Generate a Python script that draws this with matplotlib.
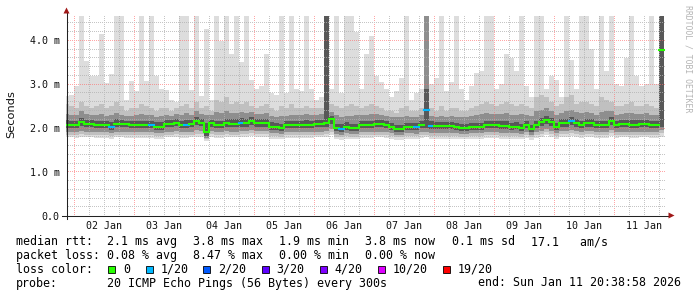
import numpy as np
import matplotlib
matplotlib.use('Agg')
import matplotlib.pyplot as plt
from matplotlib.collections import LineCollection
from matplotlib.lines import Line2D
from matplotlib.patches import Rectangle, Polygon
from matplotlib.transforms import Affine2D

W, H = 697, 297

# two hour columns, hours counted from 01 Jan 00:00
col_start = 20
col_hours = 2
view_start, view_end = 20.65, 260.65
y_top = 200 / 43.75

# median rtt per column (ms)
median = [
    2.08, 2.08, 2.08, 2.13, 2.10, 2.10, 2.08, 2.06, 2.06, 2.03,
    2.10, 2.10, 2.10, 2.06, 2.06, 2.06, 2.06, 2.08, 2.03, 2.03,
    2.10, 2.10, 2.12, 2.06, 2.08, 2.10, 2.17, 2.12, 1.90, 2.11,
    2.06, 2.06, 2.11, 2.10, 2.10, 2.11, 2.11, 2.15, 2.11, 2.11,
    2.11, 2.03, 2.03, 2.00, 2.06, 2.06, 2.08, 2.08, 2.08, 2.08,
    2.10, 2.10, 2.11, 2.20, 2.00, 1.98, 2.03, 2.00, 2.00, 2.06,
    2.06, 2.06, 2.10, 2.10, 2.06, 2.02, 1.98, 1.98, 2.03, 2.03,
    2.02, 2.06, 2.42, 2.05, 2.05, 2.05, 2.05, 2.05, 2.03, 2.00,
    2.00, 2.02, 2.02, 2.02, 2.07, 2.07, 2.07, 2.05, 2.05, 2.02,
    2.03, 2.00, 2.07, 1.98, 2.06, 2.13, 2.19, 2.13, 2.02, 2.11,
    2.11, 2.15, 2.11, 2.06, 2.11, 2.11, 2.06, 2.07, 2.07, 2.17,
    2.06, 2.10, 2.10, 2.08, 2.08, 2.10, 2.10, 2.07, 2.07, 3.79,
]

# lost pings (of 20) per column
lost = [
    0, 0, 0, 0, 0, 0, 0, 0, 0, 1,
    0, 0, 0, 0, 0, 0, 0, 1, 0, 0,
    0, 0, 0, 0, 1, 0, 0, 0, 0, 0,
    0, 0, 0, 0, 0, 1, 0, 0, 0, 0,
    0, 0, 0, 0, 0, 0, 0, 0, 0, 0,
    0, 0, 0, 0, 0, 1, 0, 0, 0, 0,
    0, 0, 0, 0, 0, 0, 0, 0, 0, 0,
    1, 0, 1, 1, 0, 0, 0, 0, 0, 0,
    0, 0, 0, 0, 0, 0, 0, 0, 0, 0,
    0, 0, 0, 0, 0, 0, 0, 0, 0, 0,
    0, 1, 0, 0, 0, 0, 0, 0, 0, 0,
    0, 0, 0, 0, 0, 0, 0, 0, 0, 0,
]

# smoke: slowest / fastest ping and inner pairs of the sorted pings (ms)
rtt_max = [
    2.72, 2.75, 2.95, 4.6, 3.54, 3.2, 3.2, 4.16, 3.04, 3.24,
    4.6, 4.6, 2.63, 3.08, 2.85, 4.6, 3.08, 4.6, 3.2, 2.9,
    2.86, 2.63, 2.6, 4.6, 4.6, 2.86, 4.6, 2.72, 4.27, 2.63,
    4.6, 4.0, 4.6, 3.7, 4.6, 3.5, 4.6, 3.1, 2.9, 2.95,
    3.7, 2.8, 2.75, 4.6, 2.8, 4.6, 2.9, 2.85, 4.6, 2.9,
    2.65, 2.7, 4.6, 2.9, 4.6, 2.8, 4.6, 4.6, 4.2, 2.9,
    3.7, 4.1, 3.2, 3.05, 2.9, 2.7, 2.85, 3.15, 4.6, 2.65,
    2.8, 2.9, 4.6, 3.0, 3.15, 4.6, 2.85, 3.05, 4.6, 2.9,
    2.65, 2.95, 3.25, 3.3, 4.6, 4.6, 2.9, 3.0, 3.7, 3.6,
    3.3, 4.6, 2.95, 2.7, 4.6, 4.6, 2.9, 3.2, 3.1, 2.7,
    4.6, 3.55, 2.9, 4.6, 4.6, 3.8, 2.9, 4.6, 3.3, 4.6,
    3.0, 2.95, 3.6, 4.6, 3.2, 2.95, 3.0, 4.6, 3.0, 4.6,
]
rtt_hi2 = [
    2.55, 2.5, 2.45, 2.6, 2.5, 2.45, 2.5, 2.55, 2.45, 2.5,
    2.6, 2.5, 2.4, 2.45, 2.45, 2.55, 2.5, 2.45, 2.4, 2.45,
    2.45, 2.4, 2.45, 2.5, 2.55, 2.45, 2.6, 2.45, 2.5, 2.4,
    2.65, 2.6, 2.7, 2.55, 2.6, 2.55, 2.6, 2.5, 2.45, 2.5,
    2.55, 2.45, 2.4, 2.5, 2.45, 2.55, 2.45, 2.45, 2.5, 2.45,
    2.45, 2.45, 4.6, 2.55, 2.5, 2.45, 2.5, 2.55, 2.5, 2.45,
    2.5, 2.55, 2.5, 2.45, 2.4, 2.4, 2.35, 2.45, 2.5, 2.4,
    2.4, 2.45, 4.6, 2.45, 2.4, 2.5, 2.4, 2.45, 2.45, 2.4,
    2.4, 2.45, 2.5, 2.55, 2.6, 2.55, 2.5, 2.55, 2.6, 2.55,
    2.5, 2.55, 2.5, 2.45, 2.7, 2.75, 2.7, 2.6, 2.5, 2.55,
    2.7, 2.75, 2.55, 2.6, 2.6, 2.55, 2.5, 2.7, 2.65, 2.6,
    2.5, 2.5, 2.55, 2.6, 2.5, 2.5, 2.55, 2.5, 2.45, 4.6,
]
rtt_hi3 = [
    2.32, 2.3, 2.3, 2.38, 2.32, 2.3, 2.3, 2.32, 2.28, 2.3,
    2.35, 2.3, 2.28, 2.28, 2.3, 2.32, 2.3, 2.3, 2.26, 2.28,
    2.3, 2.28, 2.32, 2.3, 2.34, 2.3, 2.38, 2.32, 2.3, 2.3,
    2.36, 2.34, 2.4, 2.35, 2.34, 2.36, 2.35, 2.36, 2.32, 2.32,
    2.34, 2.28, 2.26, 2.28, 2.28, 2.3, 2.3, 2.3, 2.32, 2.3,
    2.3, 2.32, 4.6, 2.36, 2.3, 2.26, 2.28, 2.28, 2.3, 2.3,
    2.3, 2.32, 2.32, 2.3, 2.28, 2.25, 2.24, 2.26, 2.28, 2.26,
    2.25, 2.3, 4.6, 2.28, 2.26, 2.28, 2.26, 2.28, 2.26, 2.25,
    2.25, 2.28, 2.3, 2.32, 2.34, 2.32, 2.32, 2.32, 2.34, 2.3,
    2.3, 2.32, 2.3, 2.28, 2.38, 2.42, 2.45, 2.38, 2.3, 2.35,
    2.38, 2.42, 2.36, 2.34, 2.36, 2.34, 2.3, 2.36, 2.38, 2.4,
    2.3, 2.32, 2.34, 2.34, 2.32, 2.32, 2.34, 2.3, 2.3, 4.6,
]
rtt_hi4 = [
    2.18, 2.17, 2.17, 2.22, 2.19, 2.18, 2.17, 2.16, 2.15, 2.14,
    2.2, 2.18, 2.17, 2.15, 2.15, 2.16, 2.15, 2.17, 2.13, 2.14,
    2.18, 2.18, 2.2, 2.16, 2.18, 2.19, 2.26, 2.2, 2.12, 2.19,
    2.16, 2.16, 2.21, 2.2, 2.2, 2.22, 2.21, 2.24, 2.2, 2.2,
    2.2, 2.13, 2.12, 2.1, 2.15, 2.15, 2.17, 2.17, 2.18, 2.17,
    2.19, 2.19, 4.6, 2.28, 2.1, 2.1, 2.13, 2.1, 2.1, 2.15,
    2.15, 2.16, 2.19, 2.19, 2.15, 2.12, 2.08, 2.08, 2.12, 2.12,
    2.12, 2.15, 2.9, 2.15, 2.14, 2.14, 2.14, 2.14, 2.12, 2.1,
    2.1, 2.12, 2.12, 2.12, 2.17, 2.17, 2.17, 2.15, 2.15, 2.12,
    2.13, 2.1, 2.17, 2.08, 2.16, 2.23, 2.28, 2.23, 2.12, 2.2,
    2.21, 2.25, 2.21, 2.16, 2.2, 2.2, 2.16, 2.17, 2.17, 2.26,
    2.16, 2.19, 2.19, 2.18, 2.18, 2.19, 2.19, 2.17, 2.17, 4.6,
]
rtt_lo4 = [
    2.01, 2.01, 2.01, 2.04, 2.02, 2.02, 2.0, 1.99, 1.99, 1.96,
    2.02, 2.02, 2.02, 1.99, 1.99, 1.99, 1.99, 2.0, 1.96, 1.96,
    2.02, 2.02, 2.04, 1.99, 2.0, 2.02, 2.07, 2.04, 1.82, 2.03,
    1.99, 1.99, 2.03, 2.02, 2.02, 2.03, 2.03, 2.06, 2.03, 2.03,
    2.03, 1.96, 1.96, 1.94, 1.99, 1.99, 2.0, 2.0, 2.0, 2.0,
    2.02, 2.02, 2.03, 2.1, 1.94, 1.92, 1.96, 1.94, 1.94, 1.99,
    1.99, 1.99, 2.02, 2.02, 1.99, 1.96, 1.92, 1.92, 1.96, 1.96,
    1.95, 1.99, 2.0, 1.98, 1.98, 1.98, 1.98, 1.98, 1.96, 1.94,
    1.94, 1.96, 1.96, 1.96, 2.0, 2.0, 2.0, 1.98, 1.98, 1.96,
    1.97, 1.94, 2.0, 1.92, 1.99, 2.05, 2.1, 2.05, 1.96, 2.03,
    2.03, 2.07, 2.03, 1.99, 2.03, 2.03, 1.99, 2.0, 2.0, 2.08,
    1.99, 2.02, 2.02, 2.0, 2.0, 2.02, 2.02, 2.0, 2.0, 2.02,
]
rtt_lo3 = [
    1.92, 1.92, 1.91, 1.93, 1.92, 1.92, 1.91, 1.9, 1.9, 1.88,
    1.92, 1.92, 1.91, 1.9, 1.9, 1.9, 1.9, 1.9, 1.88, 1.88,
    1.92, 1.92, 1.93, 1.9, 1.91, 1.92, 1.95, 1.93, 1.78, 1.93,
    1.9, 1.9, 1.93, 1.92, 1.92, 1.93, 1.93, 1.95, 1.93, 1.93,
    1.93, 1.88, 1.88, 1.86, 1.9, 1.9, 1.91, 1.91, 1.91, 1.91,
    1.92, 1.92, 1.93, 1.98, 1.86, 1.85, 1.88, 1.86, 1.86, 1.9,
    1.9, 1.9, 1.92, 1.92, 1.9, 1.88, 1.85, 1.85, 1.88, 1.88,
    1.87, 1.9, 1.92, 1.89, 1.89, 1.89, 1.89, 1.89, 1.88, 1.86,
    1.86, 1.88, 1.88, 1.88, 1.91, 1.91, 1.91, 1.89, 1.89, 1.88,
    1.88, 1.86, 1.91, 1.85, 1.9, 1.94, 1.98, 1.94, 1.88, 1.93,
    1.93, 1.95, 1.93, 1.9, 1.93, 1.93, 1.9, 1.91, 1.91, 1.96,
    1.9, 1.92, 1.92, 1.91, 1.91, 1.92, 1.92, 1.91, 1.91, 1.95,
]
rtt_lo2 = [
    1.85, 1.85, 1.84, 1.86, 1.85, 1.85, 1.84, 1.83, 1.83, 1.82,
    1.85, 1.85, 1.84, 1.83, 1.83, 1.83, 1.83, 1.83, 1.82, 1.82,
    1.85, 1.85, 1.86, 1.83, 1.84, 1.85, 1.87, 1.86, 1.74, 1.86,
    1.83, 1.83, 1.86, 1.85, 1.85, 1.86, 1.86, 1.88, 1.86, 1.86,
    1.86, 1.82, 1.82, 1.8, 1.83, 1.83, 1.84, 1.84, 1.84, 1.84,
    1.85, 1.85, 1.86, 1.9, 1.8, 1.79, 1.82, 1.8, 1.8, 1.83,
    1.83, 1.83, 1.85, 1.85, 1.83, 1.82, 1.79, 1.79, 1.82, 1.82,
    1.81, 1.83, 1.85, 1.82, 1.82, 1.82, 1.82, 1.82, 1.82, 1.8,
    1.8, 1.82, 1.82, 1.82, 1.84, 1.84, 1.84, 1.82, 1.82, 1.82,
    1.82, 1.8, 1.84, 1.79, 1.83, 1.87, 1.9, 1.87, 1.82, 1.86,
    1.86, 1.88, 1.86, 1.83, 1.86, 1.86, 1.83, 1.84, 1.84, 1.88,
    1.83, 1.85, 1.85, 1.84, 1.84, 1.85, 1.85, 1.84, 1.84, 1.88,
]
rtt_min = [
    1.79, 1.79, 1.78, 1.8, 1.79, 1.79, 1.78, 1.77, 1.77, 1.76,
    1.79, 1.79, 1.78, 1.77, 1.77, 1.77, 1.77, 1.77, 1.76, 1.76,
    1.79, 1.79, 1.8, 1.77, 1.78, 1.79, 1.8, 1.8, 1.7, 1.8,
    1.77, 1.77, 1.8, 1.79, 1.79, 1.8, 1.8, 1.81, 1.8, 1.8,
    1.8, 1.76, 1.76, 1.74, 1.77, 1.77, 1.78, 1.78, 1.78, 1.78,
    1.79, 1.79, 1.8, 1.83, 1.74, 1.73, 1.76, 1.74, 1.74, 1.77,
    1.77, 1.77, 1.79, 1.79, 1.77, 1.76, 1.73, 1.73, 1.76, 1.76,
    1.75, 1.77, 1.79, 1.76, 1.76, 1.76, 1.76, 1.76, 1.76, 1.74,
    1.74, 1.76, 1.76, 1.76, 1.78, 1.78, 1.78, 1.76, 1.76, 1.76,
    1.76, 1.74, 1.78, 1.73, 1.77, 1.8, 1.83, 1.8, 1.76, 1.79,
    1.79, 1.81, 1.79, 1.77, 1.79, 1.79, 1.77, 1.78, 1.78, 1.81,
    1.77, 1.79, 1.79, 1.78, 1.78, 1.79, 1.79, 1.78, 1.78, 1.8,
]

loss_steps = [0, 1, 2, 3, 4, 10, 19]
loss_labels = ['0', '1/20', '2/20', '3/20', '4/20', '10/20', '19/20']
loss_colors = ['#26ff00', '#00b8ff', '#0059ff', '#5e00ff', '#7e00ff', '#dd00ff', '#ff0000']

day_labels = ['02 Jan', '03 Jan', '04 Jan', '05 Jan', '06 Jan',
              '07 Jan', '08 Jan', '09 Jan', '10 Jan', '11 Jan']
y_values = [0, 1, 2, 3, 4]
y_labels = ['0.0', '1.0 m', '2.0 m', '3.0 m', '4.0 m']

rtt_items = ['median rtt:', '2.1 ms avg', '3.8 ms max', '1.9 ms min',
             '3.8 ms now', '0.1 ms sd', '17.1   am/s']
loss_items = ['packet loss:', '0.08 % avg', '8.47 % max', '0.00 % min', '0.00 % now']
probe_items = ['probe:', '20 ICMP Echo Pings (56 Bytes) every 300s',
               'end: Sun Jan 11 20:38:58 2026']

# plot area in pixels (rrdtool-ish layout)
X0, Y0, PW, PH = 66, 215.5, 600, 200


def grid_overlay():
    # dotted grid, one pixel on one off, painted straight into pixels
    img = np.zeros((H, W, 4))
    minor = (0.70, 0.70, 0.70, 0.75)
    major = (1.0, 0.42, 0.42, 0.6)
    px_per_h = PW / (view_end - view_start)
    px_per_ms = PH / y_top
    for h in np.arange(24, view_end, 6):
        c = int(X0 + (h - view_start) * px_per_h)
        img[16:215:2, c] = major if h % 24 == 0 else minor
    for v in np.arange(0.2, y_top, 0.2):
        r = int(np.floor(Y0 - v * px_per_ms))
        is_major = abs(v - round(v)) < 0.01
        img[r, X0 + 2:X0 + PW:2] = major if is_major else minor
    return img


def main():
    plt.rcParams['font.family'] = 'DejaVu Sans Mono'
    fig = plt.figure(figsize=(W / 100, H / 100), dpi=100)
    fig.patch.set_facecolor('white')
    # pixel coordinates, y pointing down
    px = Affine2D().scale(1 / W, -1 / H).translate(0, 1) + fig.transFigure

    rect = [X0 / W, (H - Y0) / H, PW / W, PH / H]
    ax = fig.add_axes(rect, zorder=0)
    ax.set_xlim(view_start, view_end)
    ax.set_ylim(0, y_top)
    for s in ax.spines.values():
        s.set_visible(False)

    n = len(median)
    edges = col_start + col_hours * np.arange(n + 1)

    # smoke, outer pair lightest
    layers = [(rtt_min, rtt_max, '#dddddd'), (rtt_lo2, rtt_hi2, '#c0c0c0'),
              (rtt_lo3, rtt_hi3, '#8e8e8e'), (rtt_lo4, rtt_hi4, '#585858')]
    for lo, hi, c in layers:
        ax.stairs(hi, edges, baseline=lo, fill=True, color=c, lw=0)

    ax.set_yticks(y_values, y_labels)
    ax.set_xticks([36 + 24 * i for i in range(len(day_labels))], day_labels)
    ax.tick_params(axis='y', length=0, pad=4.6, labelsize=7.2, labelcolor='#111111')
    ax.tick_params(axis='x', length=0, pad=4.2, labelsize=7.2, labelcolor='#111111')

    # grid above the smoke
    fig.figimage(grid_overlay(), xo=0, yo=0, origin='upper', zorder=1)

    # median line coloured by loss, above the grid
    top = fig.add_axes(rect, zorder=2)
    top.set_xlim(view_start, view_end)
    top.set_ylim(0, y_top)
    top.set_axis_off()
    col_of = dict(zip(loss_steps, loss_colors))
    segs, cols = [], []
    for i in range(n):
        c = col_of[lost[i]]
        # steps only join within one loss colour and for small moves
        if i > 0 and lost[i] == lost[i - 1] and abs(median[i] - median[i - 1]) < 0.3:
            segs.append([(edges[i], median[i - 1]), (edges[i], median[i])])
            cols.append(c)
        segs.append([(edges[i], median[i]), (edges[i + 1], median[i])])
        cols.append(c)
    top.add_collection(LineCollection(segs, colors=cols, linewidths=1.5,
                                      capstyle='projecting'))

    # axes with arrows
    fig.add_artist(Line2D([66.5, 66.5], [219, 12], color='#222222', lw=0.75, transform=px, zorder=3))
    fig.add_artist(Line2D([62, 670], [215.5, 215.5], color='#222222', lw=0.75, transform=px, zorder=3))
    arrow_c = '#a01818'
    fig.add_artist(Polygon([(63.5, 13.5), (69.5, 13.5), (66.5, 7.5)], closed=True,
                           color=arrow_c, lw=0, transform=px, zorder=3))
    fig.add_artist(Polygon([(668.5, 212.5), (668.5, 218.5), (674.5, 215.5)], closed=True,
                           color=arrow_c, lw=0, transform=px, zorder=3))

    fig.text(11.5, 114, 'Seconds', rotation=90, ha='center', va='center',
             family='DejaVu Sans', fontsize=8.2, color='#111111', transform=px)
    fig.text(688, 5, 'RRDTOOL / TOBI OETIKER', rotation=270, ha='center', va='top',
             fontsize=5.9, color='#b4b4b4', transform=px)

    # legend, items placed where rrdtool put them
    fs = 8.35
    baselines = [245.3, 259, 272.7, 286.5]
    col_x = [15.5, 107.3, 193.3, 279.3, 365, 451.7, 530.7]
    for txt, x in zip(rtt_items, col_x):
        fig.text(x, baselines[0], txt, va='baseline', fontsize=fs, transform=px)
    for txt, x in zip(loss_items, col_x):
        fig.text(x, baselines[1], txt, va='baseline', fontsize=fs, transform=px)
    fig.text(col_x[0], baselines[2], 'loss color:', va='baseline', fontsize=fs, transform=px)
    for txt, x in zip(probe_items, [col_x[0], col_x[1], 478.3]):
        fig.text(x, baselines[3], txt, va='baseline', fontsize=fs, transform=px)
    box_x = [108, 145.5, 203, 261.5, 319.5, 377.5, 442.5]
    for bx, lab, c in zip(box_x, loss_labels, loss_colors):
        fig.add_artist(Rectangle((bx, 266), 7, 7, facecolor=c, edgecolor='black',
                                 lw=0.6, transform=px))
        fig.text(bx + 14.8, baselines[2], lab, va='baseline', fontsize=fs, transform=px)

    fig.savefig('out.png', dpi=100, facecolor='white')


if __name__ == '__main__':
    main()
